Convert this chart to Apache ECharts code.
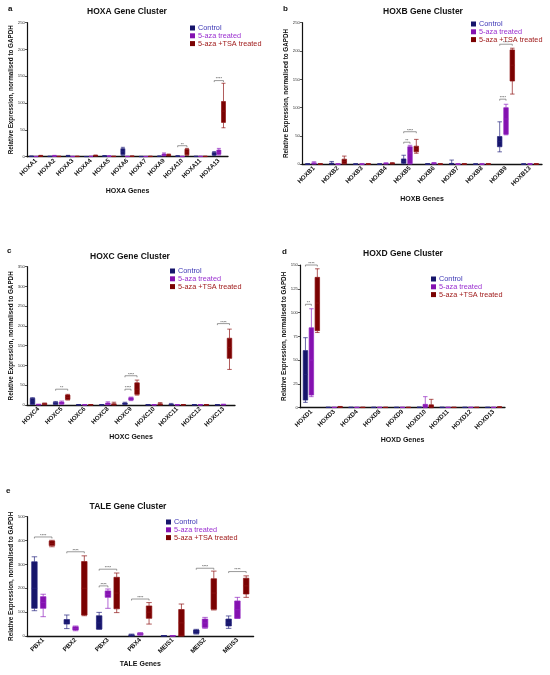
<!DOCTYPE html>
<html>
<head>
<meta charset="utf-8">
<script src="https://cdn.jsdelivr.net/npm/echarts@6/dist/echarts.min.js"></script>
<style>html,body{margin:0;padding:0;background:#fff}#c{width:550px;height:675px}</style>
</head>
<body>
<div id="c"></div>
<script>
// ---------- DATA ([min, Q1, median, Q3, max]) ----------
const seriesNames = ['Control', '5-aza treated', '5-aza +TSA treated'];

const hoxaGenes = ['HOXA1','HOXA2','HOXA3','HOXA4','HOXA5','HOXA6','HOXA7','HOXA9','HOXA10','HOXA11','HOXA13'];
const hoxaControl = [[0.2,0.4,0.6,0.9,1.2],[0.2,0.3,0.5,0.7,1],[0.5,1,1.5,2,2.5],[0.1,0.2,0.3,0.4,0.5],[0.5,0.8,1.2,1.6,2],[2,4,10,15,17.5],[0.1,0.2,0.3,0.5,0.7],[0.3,0.5,0.7,1,1.3],[0.5,0.8,1,1.4,1.8],[0.2,0.3,0.5,0.7,0.9],[2,3,5,8,9.5]];
const hoxaAza = [[0.1,0.2,0.3,0.5,0.7],[0.5,1,1.5,2,2.5],[0.1,0.2,0.4,0.6,0.8],[0.2,0.3,0.5,0.7,0.9],[0.3,0.6,1,1.3,1.6],[0.1,0.2,0.4,0.6,0.8],[0.1,0.2,0.3,0.5,0.7],[1.5,2,3.5,5,7],[0.1,0.2,0.4,0.6,0.8],[0.2,0.3,0.5,0.7,0.9],[3,4.5,8,12.5,15.5]];
const hoxaTsa = [[0.5,1,1.5,2,2.5],[0.2,0.3,0.5,0.7,0.9],[0.2,0.3,0.5,0.7,0.9],[1,1.5,2,2.5,3],[0.2,0.3,0.5,0.7,0.9],[0.3,0.5,0.8,1,1.3],[0.2,0.3,0.5,0.7,0.9],[1.5,2,3,4,5],[2.5,3.5,9,14,15.5],[0.2,0.3,0.5,0.7,0.9],[54,64,85,103,137]];
const hoxaSig = [[8,0,2,20.5,'**'],[10,0,2,142,'****']];

const hoxbGenes = ['HOXB1','HOXB2','HOXB3','HOXB4','HOXB5','HOXB6','HOXB7','HOXB8','HOXB9','HOXB13'];
const hoxbControl = [[0.1,0.2,0.4,0.6,0.8],[0.3,0.6,1.2,2,5],[0.1,0.2,0.3,0.5,0.7],[0.1,0.2,0.3,0.4,0.6],[0.5,2,5,9.5,16],[0.2,0.3,0.5,0.7,1],[0.2,0.5,1,1.5,7.5],[0.1,0.2,0.3,0.5,0.7],[22,31,40,49,75],[0.1,0.2,0.3,0.5,0.7]];
const hoxbAza = [[0.5,1,1.8,2.5,4.5],[0.1,0.2,0.4,0.6,0.8],[0.1,0.2,0.3,0.5,0.7],[0.5,1,1.5,2,2.5],[0.5,1,20,31,33.5],[0.5,1,1.8,2.5,3],[0.1,0.2,0.4,0.6,0.8],[0.1,0.2,0.3,0.5,0.7],[52,53,80,100,106],[0.2,0.3,0.5,0.7,0.9]];
const hoxbTsa = [[0.2,0.3,0.5,0.7,0.9],[0.5,1,5,9,14.5],[0.2,0.3,0.5,0.7,0.9],[0.5,1,1.5,2,3],[19.5,22,27,32,44],[0.2,0.3,0.5,0.7,0.9],[0.2,0.3,0.5,0.7,0.9],[0.2,0.3,0.5,0.7,0.9],[124,147,175,202,205],[0.2,0.3,0.5,0.7,0.9]];
const hoxbSig = [[4,0,1,39,'**'],[4,0,2,57.5,'****'],[8,0,1,115,'****'],[8,0,2,212,'****']];

const hoxcGenes = ['HOXC4','HOXC5','HOXC6','HOXC8','HOXC9','HOXC10','HOXC11','HOXC12','HOXC13'];
const hoxcControl = [[1.5,2,10,17,18.5],[1.5,2,4,7,9],[0.2,0.3,0.5,0.7,1],[0.2,0.3,0.5,0.8,1.2],[1.5,2,3.5,5,7],[0.2,0.3,0.5,0.7,1],[0.3,0.5,1,1.5,4],[0.2,0.3,0.5,0.7,0.9],[0.2,0.3,0.5,0.7,1]];
const hoxcAza = [[0.3,0.5,1,1.5,2],[2,2.5,5,7.5,10],[0.2,0.3,0.5,0.7,0.9],[0.5,1,3,5,8],[11,12.5,15,18.5,20],[0.2,0.3,0.5,0.7,0.9],[0.2,0.3,0.5,0.7,0.9],[0.2,0.3,0.5,0.7,0.9],[0.3,0.5,1,1.5,2]];
const hoxcTsa = [[0.5,1,2.5,4,5],[12.5,14,19,25,27],[0.2,0.3,0.5,0.7,0.9],[0.2,0.5,1.5,3,7],[25,27,40,56,63],[0.3,0.5,1.5,3,6],[0.2,0.3,0.5,0.7,0.9],[0.2,0.3,0.5,0.7,0.9],[90,118,145,169,192]];
const hoxcSig = [[1,0,2,40,'**'],[4,0,1,40,'****'],[4,0,2,74,'****'],[8,0,2,206,'****']];

const hoxdGenes = ['HOXD1','HOXD3','HOXD4','HOXD8','HOXD9','HOXD10','HOXD11','HOXD12','HOXD13'];
const hoxdControl = [[5.6,8,35,60,73.6],[0.1,0.2,0.3,0.4,0.5],[0.1,0.2,0.3,0.4,0.5],[0.1,0.2,0.3,0.4,0.5],[0.1,0.2,0.3,0.4,0.5],[0.1,0.2,0.3,0.5,0.7],[0.1,0.2,0.3,0.4,0.5],[0.1,0.2,0.3,0.4,0.5],[0.1,0.2,0.3,0.4,0.5]];
const hoxdAza = [[11.6,13.3,50,84,104],[0.1,0.2,0.3,0.4,0.5],[0.1,0.2,0.3,0.4,0.5],[0.1,0.2,0.3,0.4,0.5],[0.1,0.2,0.3,0.4,0.5],[0,0.5,2,3.5,11.6],[0.1,0.2,0.3,0.4,0.5],[0.1,0.2,0.3,0.4,0.5],[0.1,0.2,0.3,0.4,0.5]];
const hoxdTsa = [[79,81,110,137,146],[0.3,0.5,0.8,1,1.3],[0.1,0.2,0.3,0.4,0.5],[0.1,0.2,0.3,0.4,0.5],[0.1,0.2,0.3,0.4,0.5],[0,0.5,1.5,3,8.8],[0.1,0.2,0.3,0.4,0.5],[0.1,0.2,0.3,0.4,0.5],[0.2,0.4,0.6,0.8,1]];
const hoxdSig = [[0,0,1,108.7,'**'],[0,0,2,150,'****']];

const taleGenes = ['PBX1','PBX2','PBX3','PBX4','MEIS1','MEIS2','MEIS3'];
const taleControl = [[106,116,200,311,332],[31,50,58,69,88],[28,29,55,85,99],[0,1,3,5,8],[0,0.3,0.6,1,1.5],[8,11,18,25,28],[32,42,55,71,84]];
const taleAza = [[81,116,140,165,175],[22,25,32,39,42],[116,162,175,189,197],[3,5,8,12,14],[0,0.3,0.6,1,1.5],[32,36,55,71,78],[74,74,110,147,162]];
const taleTsa = [[374,379,388,398,401],[85,88,200,312,336],[98,114,180,246,264],[50,74,100,126,140],[0,0,55,111,134],[109,112,180,240,272],[162,176,210,242,252]];
const taleSig = [[0,0,2,415,'****'],[1,0,2,353,'****'],[2,0,1,210,'****'],[2,0,2,280,'****'],[3,0,2,155,'****'],[5,0,2,284,'****'],[6,0,2,270,'****']];

// ---------- STYLE / LAYOUT ----------
const FONT = 'Liberation Sans, Arial, sans-serif';
const fills = ['#16156b', '#8411b0', '#7a0202'];
const borders = ['#26257e', '#9226c0', '#8e1414'];
const legendText = ['#3b35b5', '#9a2fd0', '#a01c1c'];

const panels = [
  {letter:'a', title:'HOXA Gene Cluster', xname:'HOXA Genes', genes:hoxaGenes, data:[hoxaControl,hoxaAza,hoxaTsa], sig:hoxaSig,
   grid:{left:27,top:22.7,width:201,height:134}, max:250, interval:50, box:4, tcx:127, tcy:12, lx:8, ly:10, leg:[190,24.5], nameGap:31},
  {letter:'b', title:'HOXB Gene Cluster', xname:'HOXB Genes', genes:hoxbGenes, data:[hoxbControl,hoxbAza,hoxbTsa], sig:hoxbSig,
   grid:{left:302,top:22.7,width:240,height:141.6}, max:250, interval:50, box:4.5, tcx:423, tcy:12, lx:283, ly:10, leg:[471,20.5], nameGap:31},
  {letter:'c', title:'HOXC Gene Cluster', xname:'HOXC Genes', genes:hoxcGenes, data:[hoxcControl,hoxcAza,hoxcTsa], sig:hoxcSig,
   grid:{left:27,top:266.7,width:208,height:138.3}, max:350, interval:50, box:4.5, tcx:130, tcy:257, lx:7, ly:252, leg:[170,267.5], nameGap:29},
  {letter:'d', title:'HOXD Gene Cluster', xname:'HOXD Genes', genes:hoxdGenes, data:[hoxdControl,hoxdAza,hoxdTsa], sig:hoxdSig,
   grid:{left:300,top:265,width:205,height:142.7}, max:150, interval:25, box:4.5, tcx:403, tcy:254, lx:282, ly:253, leg:[431,275.5], nameGap:29},
  {letter:'e', title:'TALE Gene Cluster', xname:'TALE Genes', genes:taleGenes, data:[taleControl,taleAza,taleTsa], sig:taleSig,
   grid:{left:27,top:516.7,width:226.6,height:119.3}, max:500, interval:100, box:5.5, tcx:128, tcy:507, lx:6, ly:492, leg:[166,518.5], nameGap:25}
];

const option = {
  animation:false,
  backgroundColor:'#fff',
  title:[], grid:[], xAxis:[], yAxis:[], series:[], legend:[]
};

panels.forEach(function(p, i){
  option.title.push({text:p.title, left:p.tcx, top:p.tcy-5, textAlign:'center', padding:0,
    textStyle:{fontFamily:FONT, fontSize:8.5, fontWeight:'bold', color:'#111'}});
  option.title.push({text:p.letter, left:p.lx, top:p.ly-5, padding:0,
    textStyle:{fontFamily:FONT, fontSize:8, fontWeight:'bold', color:'#111'}});
  option.grid.push(Object.assign({containLabel:false}, p.grid));
  option.xAxis.push({type:'category', gridIndex:i, data:p.genes,
    name:p.xname, nameLocation:'middle', nameGap:p.nameGap,
    nameTextStyle:{fontFamily:FONT, fontSize:7, fontWeight:'bold', color:'#111'},
    axisLine:{lineStyle:{color:'#111', width:1.3}},
    axisTick:{alignWithLabel:true, length:2, lineStyle:{color:'#111', width:0.8}},
    axisLabel:{rotate:45, margin:3, interval:0, fontFamily:FONT, fontSize:6.3, fontWeight:'bold', color:'#111'},
    splitLine:{show:false}});
  option.yAxis.push({type:'value', gridIndex:i, min:0, max:p.max, interval:p.interval,
    name:'Relative Expression, normalised to GAPDH', nameLocation:'middle', nameGap:13, nameRotate:90,
    nameTextStyle:{fontFamily:FONT, fontSize:6.3, fontWeight:'bold', color:'#111'},
    axisLine:{show:true, lineStyle:{color:'#111', width:1.2}},
    axisTick:{show:true, length:2, lineStyle:{color:'#111', width:0.7}},
    axisLabel:{margin:2, fontFamily:FONT, fontSize:4.3, color:'#333'},
    splitLine:{show:false}});
  p.data.forEach(function(arr, s){
    option.series.push({type:'boxplot', name:seriesNames[s], xAxisIndex:i, yAxisIndex:i,
      data:arr, boxWidth:[p.box, p.box],
      itemStyle:{color:fills[s], borderColor:borders[s], borderWidth:0.7},
      emphasis:{disabled:true}, silent:true});
  });
  const sig = p.sig;
  option.series.push({type:'custom', xAxisIndex:i, yAxisIndex:i, silent:true, clip:false,
    data:sig.map(function(r){return [r[0], r[1], r[2], r[3]];}),
    encode:{x:0, y:3},
    renderItem:function(params, api){
      const cat = api.value(0), s0 = api.value(1), s1 = api.value(2), y = api.value(3);
      const pt = api.coord([cat, y]);
      const bw = api.size([1, 0])[0];
      const A = bw * 0.8 - 2;
      const off = A * (0.5 - 0.4/3);
      const x0 = pt[0] + (s0 - 1) * off, x1 = pt[0] + (s1 - 1) * off;
      return {type:'group', children:[
        {type:'polyline', shape:{points:[[x0, pt[1] + 1.5], [x0, pt[1]], [x1, pt[1]], [x1, pt[1] + 1.5]]},
         style:{stroke:'#555', fill:null, lineWidth:0.6}},
        {type:'text', style:{text:sig[params.dataIndex][4], x:(x0 + x1) / 2, y:pt[1] + 0.8, align:'center', verticalAlign:'bottom',
         fontSize:4, fontFamily:FONT, fill:'#333'}}
      ]};
    }});
  option.legend.push({orient:'vertical', left:p.leg[0], top:p.leg[1], padding:0, itemGap:0.8,
    itemWidth:5, itemHeight:5, icon:'rect', selectedMode:false,
    textStyle:{fontFamily:FONT, fontSize:7.3, lineHeight:6, padding:[0,0,0,-2]},
    data:seriesNames.map(function(n, k){return {name:n, itemStyle:{color:fills[k], borderWidth:0, opacity:1}, textStyle:{color:legendText[k]}};})});
});

const chart = echarts.init(document.getElementById('c'), null, {renderer:'canvas'});
chart.setOption(option);
</script>
</body>
</html>
